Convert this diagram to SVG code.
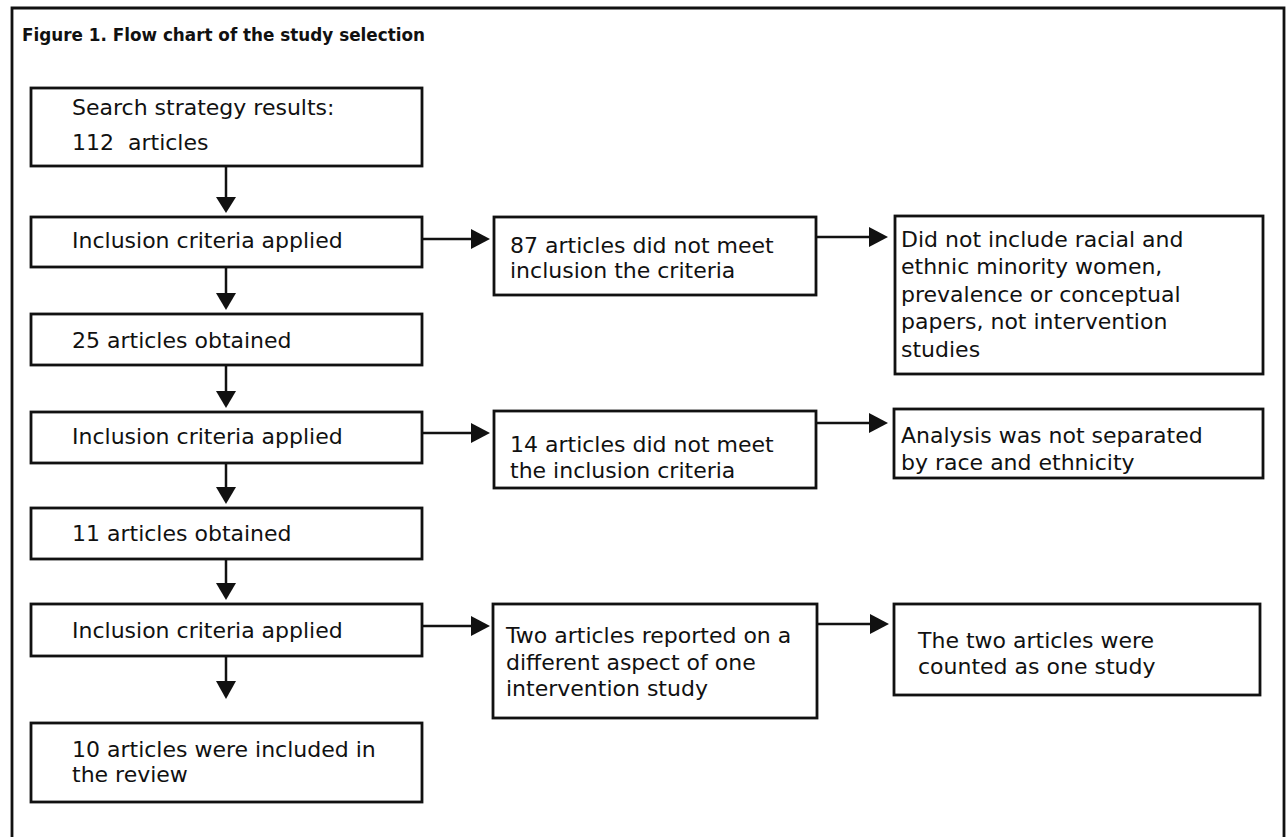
<svg xmlns="http://www.w3.org/2000/svg" width="1288" height="837" viewBox="0 0 1288 837">
  <defs>
    <style>
      .box { fill: #fff; stroke: #111; stroke-width: 2.8; }
      .t { font-family: "DejaVu Sans", "Liberation Sans", sans-serif; font-size: 22px; fill: #111; }
      .title { font-family: "DejaVu Sans", "Liberation Sans", sans-serif; font-size: 17.5px; font-weight: bold; fill: #111; }
      .ln { stroke: #111; stroke-width: 2.5; fill: none; }
      .head { fill: #111; }
    </style>
  </defs>
  <rect x="0" y="0" width="1288" height="837" fill="#fff"/>
  <path d="M12,845 V8 H1284 V845" fill="none" stroke="#111" stroke-width="2.8"/>
  <text class="title" x="22" y="41" textLength="403" lengthAdjust="spacingAndGlyphs">Figure 1. Flow chart of the study selection</text>

  <g id="connectors">
    <line class="ln" x1="226" y1="166" x2="226" y2="200"/>
    <polygon class="head" points="216,197 236,197 226,213"/>
    <line class="ln" x1="226" y1="267" x2="226" y2="296"/>
    <polygon class="head" points="216,293 236,293 226,310"/>
    <line class="ln" x1="226" y1="365" x2="226" y2="394"/>
    <polygon class="head" points="216,391 236,391 226,408"/>
    <line class="ln" x1="226" y1="463" x2="226" y2="490"/>
    <polygon class="head" points="216,487 236,487 226,504"/>
    <line class="ln" x1="226" y1="559" x2="226" y2="586"/>
    <polygon class="head" points="216,583 236,583 226,600"/>
    <line class="ln" x1="226" y1="654" x2="226" y2="684"/>
    <polygon class="head" points="216,681 236,681 226,699"/>
    <line class="ln" x1="422" y1="239" x2="474" y2="239"/>
    <polygon class="head" points="471,229 471,249 490,239"/>
    <line class="ln" x1="816" y1="237" x2="872" y2="237"/>
    <polygon class="head" points="869,227 869,247 888,237"/>
    <line class="ln" x1="422" y1="433" x2="474" y2="433"/>
    <polygon class="head" points="471,423 471,443 490,433"/>
    <line class="ln" x1="816" y1="423" x2="872" y2="423"/>
    <polygon class="head" points="869,413 869,433 888,423"/>
    <line class="ln" x1="422" y1="626" x2="474" y2="626"/>
    <polygon class="head" points="471,616 471,636 490,626"/>
    <line class="ln" x1="817" y1="624" x2="873" y2="624"/>
    <polygon class="head" points="870,614 870,634 889,624"/>
  </g>

  <g id="n-search">
    <rect class="box" x="31" y="88" width="391" height="78"/>
    <text class="t" x="72" y="115">Search strategy results:</text>
    <text class="t" x="72" y="150" xml:space="preserve">112  articles</text>
  </g>
  <g id="n-incl1">
    <rect class="box" x="31" y="217" width="391" height="50"/>
    <text class="t" x="72" y="248">Inclusion criteria applied</text>
  </g>
  <g id="n-87">
    <rect class="box" x="494" y="217" width="322" height="78"/>
    <text class="t" x="510" y="253">87 articles did not meet</text>
    <text class="t" x="510" y="278">inclusion the criteria</text>
  </g>
  <g id="n-didnot">
    <rect class="box" x="895" y="216" width="368" height="158"/>
    <text class="t" x="901" y="247">Did not include racial and</text>
    <text class="t" x="901" y="274">ethnic minority women,</text>
    <text class="t" x="901" y="302">prevalence or conceptual</text>
    <text class="t" x="901" y="329">papers, not intervention</text>
    <text class="t" x="901" y="357">studies</text>
  </g>
  <g id="n-25">
    <rect class="box" x="31" y="314" width="391" height="51"/>
    <text class="t" x="72" y="348">25 articles obtained</text>
  </g>
  <g id="n-incl2">
    <rect class="box" x="31" y="412" width="391" height="51"/>
    <text class="t" x="72" y="444">Inclusion criteria applied</text>
  </g>
  <g id="n-14">
    <rect class="box" x="494" y="411" width="322" height="77"/>
    <text class="t" x="510" y="452">14 articles did not meet</text>
    <text class="t" x="510" y="478">the inclusion criteria</text>
  </g>
  <g id="n-analysis">
    <rect class="box" x="894" y="409" width="369" height="69"/>
    <text class="t" x="901" y="443">Analysis was not separated</text>
    <text class="t" x="901" y="470">by race and ethnicity</text>
  </g>
  <g id="n-11">
    <rect class="box" x="31" y="508" width="391" height="51"/>
    <text class="t" x="72" y="541">11 articles obtained</text>
  </g>
  <g id="n-incl3">
    <rect class="box" x="31" y="604" width="391" height="52"/>
    <text class="t" x="72" y="638">Inclusion criteria applied</text>
  </g>
  <g id="n-two">
    <rect class="box" x="493" y="604" width="324" height="114"/>
    <text class="t" x="506" y="643">Two articles reported on a</text>
    <text class="t" x="506" y="670">different aspect of one</text>
    <text class="t" x="506" y="696">intervention study</text>
  </g>
  <g id="n-counted">
    <rect class="box" x="894" y="604" width="366" height="91"/>
    <text class="t" x="918" y="648">The two articles were</text>
    <text class="t" x="918" y="674">counted as one study</text>
  </g>
  <g id="n-10">
    <rect class="box" x="31" y="723" width="391" height="79"/>
    <text class="t" x="72" y="757">10 articles were included in</text>
    <text class="t" x="72" y="782">the review</text>
  </g>
</svg>
